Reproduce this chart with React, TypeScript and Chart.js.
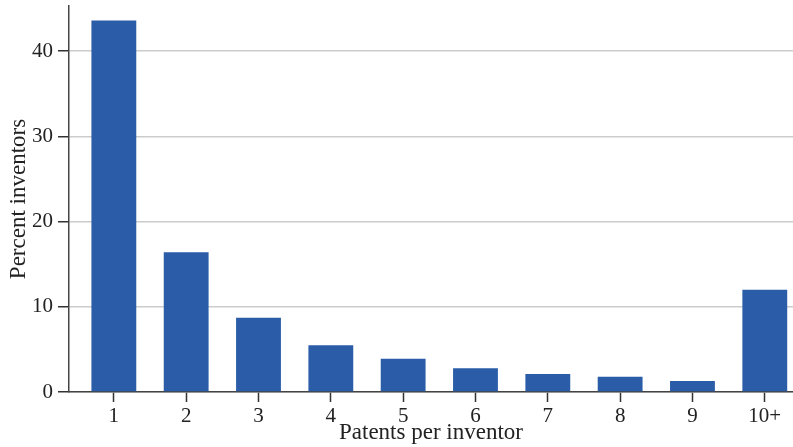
import React, { useEffect, useRef } from "react";
import { Chart, registerables } from "chart.js";

Chart.register(...registerables);

const categories = ["1", "2", "3", "4", "5", "6", "7", "8", "9", "10+"];
const percentInventors = [43.6, 16.4, 8.7, 5.5, 3.9, 2.8, 2.1, 1.8, 1.3, 12.0];
const yTicks = [0, 10, 20, 30, 40];

const FONT = "'Liberation Serif', 'Times New Roman', serif";

export default function App() {
  const ref = useRef<HTMLCanvasElement | null>(null);
  useEffect(() => {
    document.body.style.margin = "0";
    if (!ref.current) return;
    const chart = new Chart(ref.current, {
      type: "bar",
      data: {
        datasets: [
          {
            data: percentInventors.map((v, i) => ({ x: i + 1, y: v })),
            backgroundColor: "#2a5ca8",
            borderWidth: 0,
            barPercentage: 0.62,
            categoryPercentage: 1,
          },
        ],
      },
      options: {
        animation: false,
        responsive: false,
        maintainAspectRatio: false,
        layout: { padding: { top: 6, right: 0, left: 0, bottom: 0 } },
        plugins: { legend: { display: false }, tooltip: { enabled: false } },
        scales: {
          x: {
            type: "linear",
            offset: false,
            min: 0.38,
            max: 10.39,
            afterBuildTicks: (axis: any) => {
              axis.ticks = categories.map((_, i) => ({ value: i + 1 }));
            },
            afterFit: (axis: any) => {
              axis.height = 55;
              axis.paddingLeft = 0;
              axis.paddingRight = 0;
            },
            ticks: {
              callback: (v: any) => categories[Math.round(Number(v)) - 1] ?? "",
              color: "#222",
              font: { family: FONT, size: 21 },
              padding: 2,
              maxRotation: 0,
              autoSkip: false,
            },
            grid: {
              offset: false,
              drawOnChartArea: false,
              drawTicks: true,
              tickLength: 10,
              tickColor: "#333",
              tickWidth: 1.5,
            },
            border: { color: "#444", width: 1.5 },
            title: {
              display: true,
              text: "Patents per inventor",
              color: "#222",
              font: { family: FONT, size: 23 },
              padding: { top: 0, bottom: 0 },
            },
          },
          y: {
            min: 0,
            max: 45.3,
            afterBuildTicks: (axis: any) => {
              axis.ticks = yTicks.map((v) => ({ value: v }));
            },
            afterFit: (axis: any) => {
              axis.width = 69;
              axis.paddingTop = 0;
              axis.paddingBottom = 0;
            },
            ticks: {
              color: "#222",
              font: { family: FONT, size: 21 },
              padding: 5,
            },
            grid: {
              color: "#cccccc",
              lineWidth: 1.5,
              tickLength: 11,
              tickColor: "#333",
              tickWidth: 1.5,
            },
            border: { color: "#444", width: 1.5 },
            title: {
              display: true,
              text: "Percent inventors",
              color: "#222",
              font: { family: FONT, size: 23 },
              padding: { top: 5, bottom: 0 },
            },
          },
        },
      },
    });
    return () => chart.destroy();
  }, []);
  return (
    <div style={{ position: "absolute", left: 0, top: 0, width: 793, height: 447 }}>
      <canvas ref={ref} width={793} height={447} style={{ width: 793, height: 447 }} />
    </div>
  );
}
